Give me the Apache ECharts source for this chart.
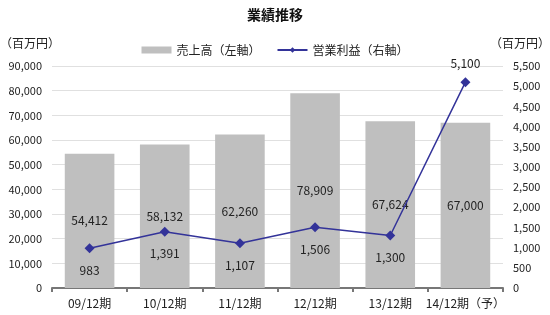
<!DOCTYPE html>
<html><head><meta charset="utf-8">
<script src="https://cdn.jsdelivr.net/npm/echarts@6/dist/echarts.min.js"></script>
<style>html,body{margin:0;padding:0;background:#fff}#c{width:550px;height:315px}</style>
</head><body><div id="c"></div>
<script>
const categories = ['09/12期','10/12期','11/12期','12/12期','13/12期','14/12期（予）'];
const sales = [54412, 58132, 62260, 78909, 67624, 67000];
const profit = [983, 1391, 1107, 1506, 1300, 5100];
const seriesNames = ['売上高（左軸）', '営業利益（右軸）'];
const titleText = '業績推移';
const unitLabel = '（百万円）';

const font = '"Noto Sans CJK JP", "Noto Sans", sans-serif';
const fmt = v => Number(v).toLocaleString('en-US');
const chart = echarts.init(document.getElementById('c'));
chart.setOption({
  animation: false,
  textStyle: { fontFamily: font },
  title: { text: titleText, left: 'center', top: 3, textStyle: { fontSize: 14, fontWeight: 'bold', color: '#111', fontFamily: font } },
  legend: {
    top: 39, left: 'center', itemGap: 16, itemWidth: 30, itemHeight: 7,
    textStyle: { fontSize: 12, color: '#222', fontFamily: font },
    data: [ { name: seriesNames[0], icon: 'rect' }, { name: seriesNames[1] } ]
  },
  graphic: [
    { type: 'text', left: 0, top: 37, style: { text: unitLabel, font: '12px ' + font, fill: '#222' } },
    { type: 'text', right: 0, top: 37, style: { text: unitLabel, font: '12px ' + font, fill: '#222' } }
  ],
  grid: { left: 52, right: 47, top: 66, bottom: 27 },
  xAxis: {
    type: 'category', data: categories,
    axisLine: { lineStyle: { color: '#777', width: 2 } },
    axisTick: { show: true, length: 4, lineStyle: { color: '#777', width: 2 } },
    axisLabel: { interval: 0, fontSize: 12, color: '#222', margin: 9, fontFamily: font }
  },
  yAxis: [
    { type: 'value', min: 0, max: 90000, interval: 10000,
      axisLine: { show: false }, axisTick: { show: false },
      splitLine: { lineStyle: { color: '#e0e0e0' } },
      axisLabel: { fontSize: 11, color: '#222', margin: 10, formatter: fmt } },
    { type: 'value', min: 0, max: 5500, interval: 500,
      axisLine: { show: false }, axisTick: { show: false },
      splitLine: { show: false },
      axisLabel: { fontSize: 11, color: '#222', margin: 10, formatter: fmt } }
  ],
  series: [
    { name: seriesNames[0], type: 'bar', data: sales, barWidth: '66%',
      itemStyle: { color: '#bfbfbf' },
      label: { show: true, position: 'inside', fontSize: 12, color: '#222', formatter: p => fmt(p.value) } },
    { name: seriesNames[1], type: 'line', yAxisIndex: 1, data: profit.map((v, i) => ({
        value: v, label: { position: i === profit.length - 1 ? 'top' : 'bottom', distance: i === profit.length - 1 ? 8 : 11 } })),
      symbol: 'diamond', symbolSize: 10,
      lineStyle: { color: '#333399', width: 1.5 }, itemStyle: { color: '#333399' },
      label: { show: true, fontSize: 12, color: '#222', formatter: p => fmt(p.value) } }
  ]
});
</script></body></html>
